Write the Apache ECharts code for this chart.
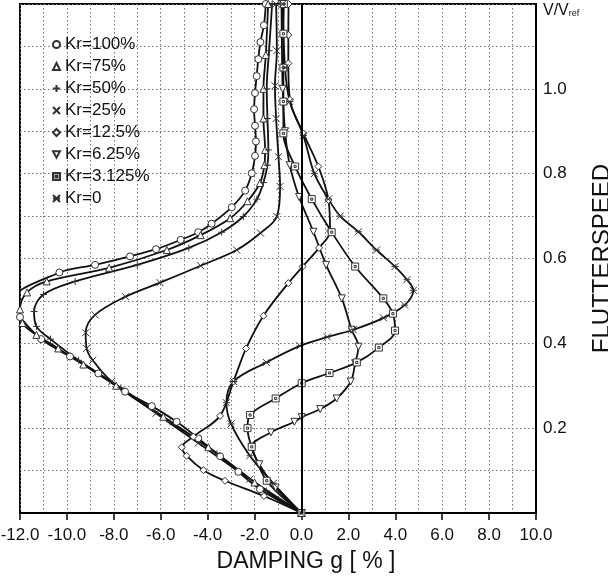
<!DOCTYPE html>
<html>
<head>
<meta charset="utf-8">
<script src="https://cdn.jsdelivr.net/npm/echarts/dist/echarts.min.js"></script>
<style>
html,body{margin:0;padding:0;background:#fff}
#main{width:608px;height:576px}
</style>
</head>
<body>
<div id="main"></div>
<script>
// damping g [%] , V/Vref
var kr100 = [[0,0],[-1.77,0.056],[-2.69,0.097],[-3.47,0.134],[-4.4,0.176],[-5.32,0.215],[-6.38,0.252],[-7.52,0.286],[-8.66,0.329],[-9.87,0.369],[-11.1,0.41],[-12.0,0.462],[-12.4,0.497],[-10.32,0.567],[-8.8,0.585],[-7.31,0.605],[-6.2,0.622],[-5.15,0.644],[-4.4,0.662],[-3.83,0.682],[-2.97,0.721],[-2.4,0.76],[-2.12,0.801],[-1.98,0.842],[-1.94,0.876],[-1.98,0.913],[-2.02,0.952],[-1.98,0.99],[-1.91,1.03],[-1.84,1.07],[-1.75,1.11],[-1.6,1.15],[-1.52,1.2]];
var kr75 = [[0,0],[-2.0,0.072],[-3.97,0.155],[-5.89,0.227],[-7.9,0.30],[-9.3,0.35],[-10.37,0.388],[-11.3,0.42],[-11.9,0.448],[-12.0,0.48],[-11.7,0.52],[-10.86,0.546],[-8.2,0.578],[-5.74,0.62],[-4.3,0.655],[-3.04,0.695],[-2.3,0.735],[-1.77,0.778],[-1.58,0.82],[-1.55,0.856],[-1.62,0.93],[-1.62,1.0],[-1.52,1.08],[-1.42,1.2]];
var kr50 = [[0,0],[-1.5,0.052],[-3.6,0.14],[-5.6,0.215],[-7.7,0.295],[-9.5,0.36],[-10.7,0.41],[-11.3,0.44],[-11.4,0.475],[-11.0,0.515],[-9.65,0.546],[-7.0,0.585],[-4.8,0.625],[-3.4,0.662],[-2.48,0.699],[-1.9,0.74],[-1.62,0.779],[-1.45,0.82],[-1.41,0.856],[-1.45,0.93],[-1.48,1.0],[-1.38,1.09],[-1.25,1.2]];
var kr25 = [[0,0],[-2.2,0.08],[-4.4,0.165],[-6.2,0.235],[-8.09,0.31],[-8.9,0.36],[-9.16,0.388],[-9.2,0.425],[-8.8,0.467],[-7.5,0.51],[-6.03,0.543],[-4.3,0.583],[-2.76,0.62],[-1.75,0.66],[-1.05,0.699],[-0.91,0.77],[-0.98,0.84],[-1.08,0.93],[-1.13,1.007],[-1.05,1.09],[-1.08,1.2]];
var kr12 = [[0,0],[-1.6,0.04],[-3.26,0.076],[-4.18,0.101],[-4.9,0.135],[-5.1,0.155],[-4.61,0.18],[-3.47,0.229],[-2.9,0.31],[-2.36,0.388],[-1.62,0.465],[-0.56,0.542],[0.05,0.581],[0.75,0.625],[1.22,0.665],[1.15,0.738],[0.72,0.817],[0.08,0.895],[-0.49,0.974],[-0.56,1.06],[-0.56,1.127],[-0.55,1.2]];
var kr6 = [[0,0],[-1.1,0.06],[-1.8,0.115],[-2.12,0.156],[-1.3,0.19],[-0.3,0.215],[0.01,0.226],[0.8,0.245],[1.5,0.27],[2.1,0.31],[2.29,0.353],[2.43,0.392],[2.14,0.432],[1.72,0.506],[1.05,0.585],[0.51,0.663],[-0.1,0.745],[-0.5,0.82],[-0.7,0.9],[-0.8,1.0],[-0.85,1.2]];
var kr3 = [[0,0],[-1.48,0.076],[-2.12,0.156],[-2.3,0.2],[-2.19,0.231],[-1.1,0.27],[0.01,0.306],[1.2,0.33],[2.36,0.355],[3.3,0.39],[3.99,0.43],[3.9,0.47],[3.49,0.506],[2.29,0.581],[1.29,0.662],[0.44,0.74],[-0.27,0.817],[-0.77,0.895],[-0.77,0.97],[-0.77,1.05],[-0.77,1.13],[-0.75,1.2]];
var kr0 = [[0,0],[-1.2,0.07],[-2.2,0.135],[-3.0,0.21],[-3.2,0.26],[-2.9,0.31],[-1.5,0.355],[-0.06,0.394],[1.1,0.415],[2.21,0.432],[3.5,0.46],[4.4,0.49],[4.77,0.525],[4.5,0.55],[3.99,0.581],[3.2,0.62],[2.43,0.663],[1.65,0.70],[1.15,0.74],[0.55,0.8],[0.08,0.89],[-0.5,0.97],[-0.7,1.05],[-0.8,1.2]];

var names = ['Kr=100%','Kr=75%','Kr=50%','Kr=25%','Kr=12.5%','Kr=6.25%','Kr=3.125%','Kr=0'];
var curves = [kr100, kr75, kr50, kr25, kr12, kr6, kr3, kr0];
var symbols = [
	'circle',
	'triangle',
	'path://M5,0L5,10M0,5L10,5',
	'path://M0,0L10,10M10,0L0,10',
	'diamond',
	'path://M0,0L10,0L5,9Z',
	'path://M0,0L10,0L10,10L0,10ZM3.5,3.5L6.5,3.5L6.5,6.5L3.5,6.5Z',
	'path://M0,0L10,10M10,0L0,10M0,5L10,5'
];

var font = 'Liberation Sans, Arial, sans-serif';
var gridLine = {color:'#777', width:1, type:[1.5,2.5]};

var myChart = echarts.init(document.getElementById('main'));

var series = curves.map(function(c, i){
	var s = {
		name: names[i],
		type: 'line',
		data: c,
		smooth: 0.35,
		symbol: symbols[i],
		symbolSize: 7,
		showAllSymbol: true,
		lineStyle: {color:'#111', width:1.8},
		itemStyle: {color:'#fff', borderColor:'#333', borderWidth:1},
		emphasis: {disabled:true}
	};
	if(i == 0){ // g = 0 line
		s.markLine = {
			silent: true,
			symbol: ['none','none'],
			label: {show:false},
			lineStyle: {color:'#000', width:2, type:'solid'},
			data: [{xAxis:0}]
		};
	}
	return s;
});

var option = {
	animation: false,
	backgroundColor: '#fff',
	textStyle: {fontFamily: font},
	grid: {left:20, right:72, top:4, bottom:63, outerBoundsMode:'none', show:true, borderColor:'#000', borderWidth:2},
	legend: {
		orient: 'vertical',
		left: 47,
		top: 31,
		itemWidth: 7,
		itemHeight: 7,
		itemGap: 5,
		textStyle: {fontSize:17, color:'#111', fontFamily:font},
		data: names.map(function(n, i){ return {name:n, icon:symbols[i]}; })
	},
	xAxis: {
		type: 'value',
		min: -12, max: 10, interval: 2,
		name: 'DAMPING g [ % ]',
		nameLocation: 'middle',
		nameGap: 37,
		nameTextStyle: {fontSize:23, color:'#111', fontFamily:font, padding:[0,0,0,56]},
		axisLine: {onZero:false, lineStyle:{color:'#000', width:2}},
		axisTick: {show:true, length:7, lineStyle:{color:'#000', width:1.5}},
		axisLabel: {fontSize:17, color:'#111', margin:14, showMinLabel:true, showMaxLabel:true,
			formatter: function(v){ return v.toFixed(1); }},
		splitLine: {lineStyle: gridLine},
		minorTick: {show:false, splitNumber:2},
		minorSplitLine: {show:true, lineStyle: gridLine}
	},
	yAxis: {
		type: 'value',
		position: 'right',
		min: 0, max: 1.2, interval: 0.2,
		name: 'FLUTTERSPEED',
		nameLocation: 'middle',
		nameRotate: 90,
		nameGap: 48,
		nameTextStyle: {fontSize:24, color:'#111', fontFamily:font},
		axisLine: {show:true, onZero:false, lineStyle:{color:'#000', width:2}},
		axisTick: {show:false},
		axisLabel: {fontSize:17, color:'#111', margin:7, showMinLabel:true, showMaxLabel:true,
			formatter: function(v){
				var k = Math.round(v*10);
				if(k == 0) return '';
				if(k == 12) return '{v|V/V}{s|ref}';
				return v.toFixed(1);
			},
			rich: {
				v: {fontSize:16, color:'#111', padding:[14,0,0,0]},
				s: {fontSize:9, color:'#111', padding:[20,0,0,0]}
			}
		},
		splitLine: {lineStyle: gridLine},
		minorTick: {show:false, splitNumber:2},
		minorSplitLine: {show:true, lineStyle: gridLine}
	},
	series: series
};
myChart.setOption(option);
</script>
</body>
</html>
